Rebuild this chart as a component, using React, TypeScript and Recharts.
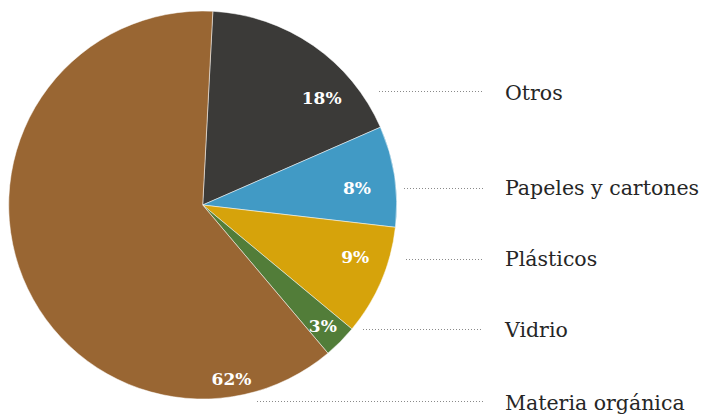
import { PieChart, Pie, Cell } from 'recharts'

document.body.style.margin = '0'

const categories = ['Otros', 'Papeles y cartones', 'Plásticos', 'Vidrio', 'Materia orgánica']
const shares = [17.6, 8.4, 9.2, 2.8, 62.0]
const colors = ['#3b3a38', '#419ac5', '#d6a30b', '#527d39', '#996633']

const data = categories.map((name, i) => ({ name, value: shares[i] }))

// where the % sits: degrees clockwise from 12 o'clock, radius as fraction of outer radius
const PCT_POS: [number, number][] = [[48, 0.825], [83.8, 0.8], [108.7, 0.83], [135.3, 0.88], [170.6, 0.91]]
// right-hand labels: text baseline, leader y, leader start x
const ROWS = [
  { y: 100, ly: 91.5, x0: 379 },
  { y: 195, ly: 188.5, x0: 404 },
  { y: 266, ly: 259.5, x0: 406 },
  { y: 337, ly: 329.5, x0: 363 },
  { y: 410, ly: 401.5, x0: 257 },
]
const LEADER_END = 483
const TEXT_X = 505

const FONT = '"DejaVu Serif", serif'

const renderLabel = (p: any) => {
  const { cx, cy, outerRadius, percent, index } = p
  const [deg, f] = PCT_POS[index]
  const a = (deg * Math.PI) / 180
  const x = cx + outerRadius * f * Math.sin(a)
  const y = cy - outerRadius * f * Math.cos(a)
  const row = ROWS[index]
  return (
    <g>
      <text x={x} y={y} textAnchor="middle" dominantBaseline="central"
        fill="#fff" fontFamily={FONT} fontWeight={700} fontSize={17}>
        {Math.round(percent * 100)}%
      </text>
      <line x1={row.x0} x2={LEADER_END} y1={row.ly} y2={row.ly}
        stroke="#8a8a8a" strokeWidth={1} strokeDasharray="1 2" />
      <text x={TEXT_X} y={row.y} fill="#262626" fontFamily={FONT} fontSize={20.5}>
        {categories[index]}
      </text>
    </g>
  )
}

export default function App() {
  return (
    <PieChart width={701} height={415} margin={{ top: 0, right: 0, bottom: 0, left: 0 }}>
      <Pie
        data={data}
        dataKey="value"
        nameKey="name"
        cx={202.7}
        cy={205}
        outerRadius={194}
        startAngle={87}
        endAngle={-273}
        stroke="#fff"
        strokeWidth={0.5}
        label={renderLabel}
        labelLine={false}
        isAnimationActive={false}
      >
        {data.map((d, i) => <Cell key={d.name} fill={colors[i]} />)}
      </Pie>
    </PieChart>
  )
}
